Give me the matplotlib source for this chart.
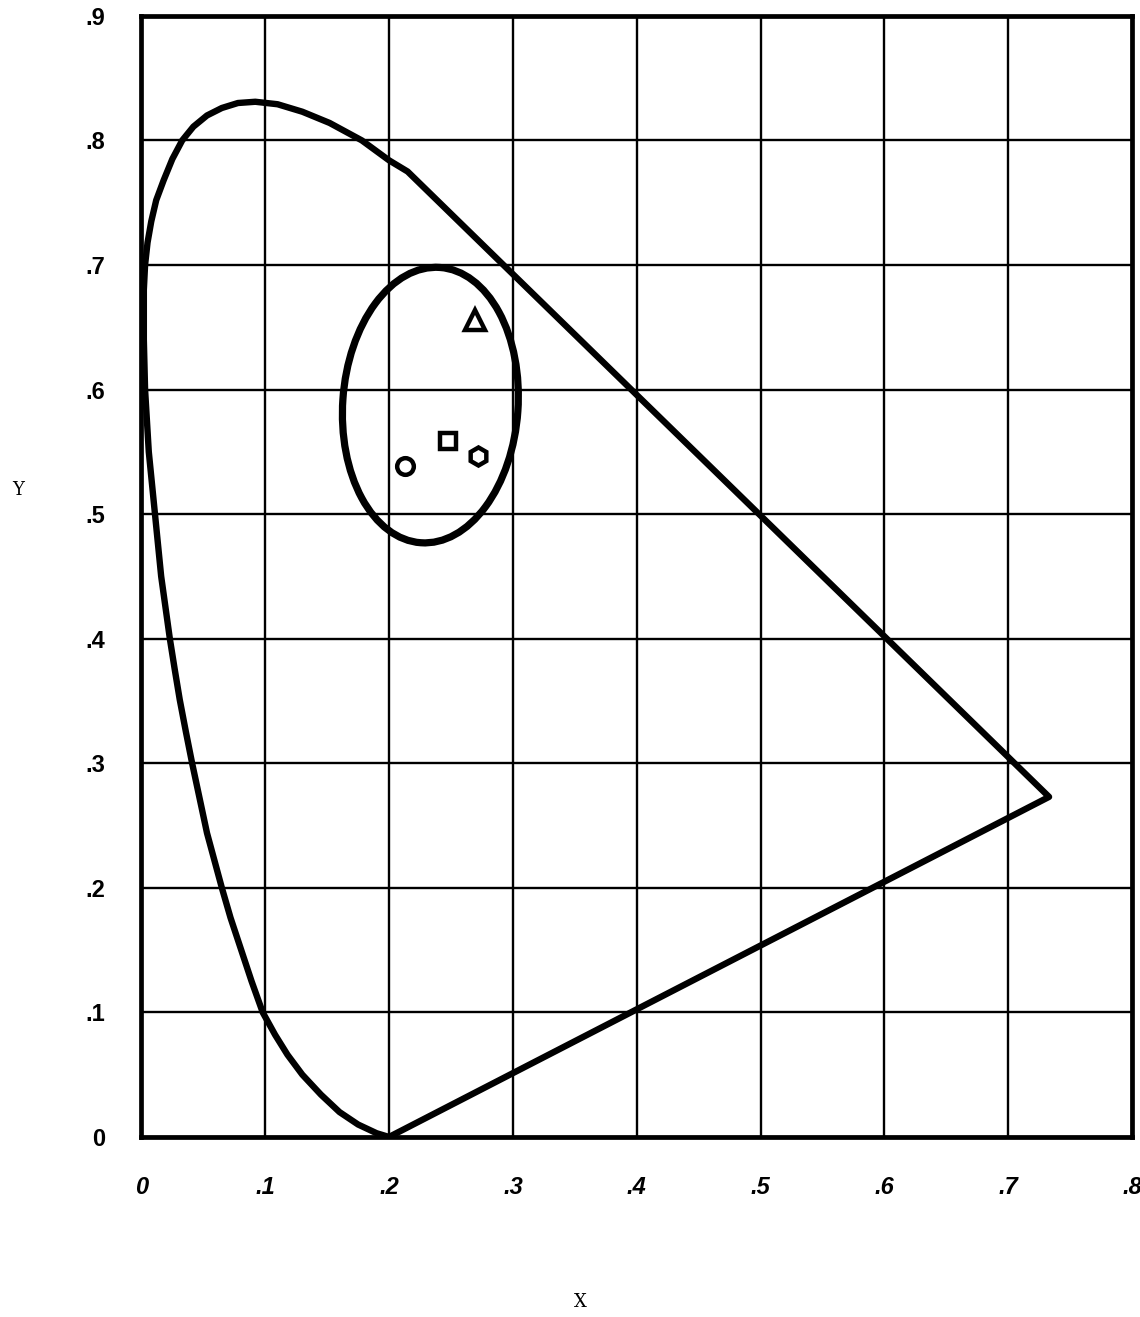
import matplotlib
matplotlib.use("Agg")
import matplotlib.pyplot as plt
from matplotlib.patches import Ellipse

# Outer boundary (going round from the bottom point)
locus_x = [0.200, 0.190, 0.175, 0.160, 0.145, 0.130, 0.118, 0.108, 0.098,
           0.089, 0.080, 0.072, 0.065, 0.059, 0.053, 0.047, 0.041, 0.036,
           0.031, 0.027, 0.023, 0.016, 0.011, 0.006, 0.003, 0.002, 0.002,
           0.003, 0.005, 0.008, 0.012, 0.018, 0.025, 0.033, 0.042, 0.053,
           0.065, 0.078, 0.092, 0.110, 0.130, 0.152, 0.178, 0.200, 0.215,
           0.733, 0.200]
locus_y = [0.000, 0.003, 0.010, 0.020, 0.034, 0.050, 0.066, 0.082, 0.100,
           0.125, 0.152, 0.176, 0.200, 0.222, 0.244, 0.272, 0.300, 0.325,
           0.351, 0.375, 0.400, 0.450, 0.500, 0.550, 0.600, 0.640, 0.680,
           0.700, 0.718, 0.735, 0.752, 0.768, 0.785, 0.800, 0.811, 0.820,
           0.826, 0.830, 0.831, 0.829, 0.823, 0.814, 0.800, 0.784, 0.775,
           0.273, 0.000]

# Ellipse around the samples
ell_center = (0.2334, 0.5875)
ell_width = 0.1416
ell_height = 0.2215
ell_angle = -4

# Sample points
sample_x = [0.2694, 0.2476, 0.2718, 0.2128]
sample_y = [0.656, 0.559, 0.547, 0.5385]
sample_marker = ['^', 's', 'h', 'o']

x_ticks = [0, 0.1, 0.2, 0.3, 0.4, 0.5, 0.6, 0.7, 0.8]
x_labels = ['0', '.1', '.2', '.3', '.4', '.5', '.6', '.7', '.8']
y_ticks = [0, 0.1, 0.2, 0.3, 0.4, 0.5, 0.6, 0.7, 0.8, 0.9]
y_labels = ['0', '.1', '.2', '.3', '.4', '.5', '.6', '.7', '.8', '.9']

fig = plt.figure(figsize=(11.4, 13.17), dpi=100)
ax = fig.add_axes([0.124, 0.1367, 0.869, 0.8513])

ax.set_xlim(0, 0.8)
ax.set_ylim(0, 0.9)

ax.set_xticks(x_ticks)
ax.set_xticklabels(x_labels, fontsize=17, fontweight='bold', style='italic',
                   family='Liberation Sans')
ax.set_yticks(y_ticks)
ax.set_yticklabels(y_labels, fontsize=17, fontweight='bold',
                   family='Liberation Sans')
ax.tick_params(axis='x', length=0, pad=28)
ax.tick_params(axis='y', length=0, pad=26)

ax.grid(True, color='black', linewidth=1.7)
for s in ax.spines.values():
    s.set_linewidth(3.4)

ax.plot(locus_x, locus_y, color='black', linewidth=4.6,
        solid_joinstyle='round', solid_capstyle='round', zorder=3)

ell = Ellipse(ell_center, ell_width, ell_height, angle=ell_angle,
              fill=False, edgecolor='black', linewidth=5.2, zorder=3)
ax.add_patch(ell)

for x, y, m in zip(sample_x, sample_y, sample_marker):
    size = {'^': 14, 's': 11, 'h': 13, 'o': 12}[m]
    ax.plot(x, y, marker=m, markersize=size, markerfacecolor='white',
            markeredgecolor='black', markeredgewidth=3.2, zorder=4)

fig.text(18 / 1140, 1 - 490 / 1317, 'Y', fontsize=13, family='DejaVu Serif',
         ha='center', va='center')
fig.text(580 / 1140, 1 - 1302 / 1317, 'X', fontsize=13, family='DejaVu Serif',
         ha='center', va='center')

fig.savefig('out.png', dpi=100, facecolor='white')
